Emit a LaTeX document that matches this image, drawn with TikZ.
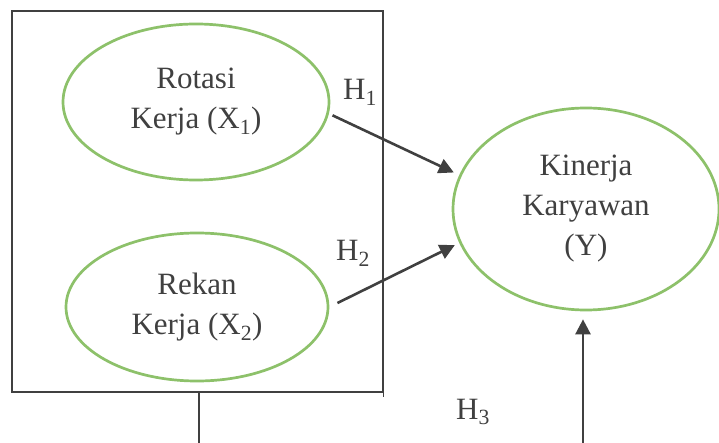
\documentclass[tikz,border=0pt]{standalone}
\usepackage{fontspec}
\setmainfont{Liberation Serif}
\usepackage{tikz}
\usetikzlibrary{shapes.geometric}
\usetikzlibrary{arrows.meta,calc}
\definecolor{ovalgreen}{RGB}{141,193,106}
\definecolor{inkgray}{RGB}{64,64,64}
\tikzset{
  every node/.style={font=\fontsize{31}{40}\selectfont,text=inkgray},
  varoval/.style={ellipse,draw=ovalgreen,line width=2.7pt,inner sep=0pt,align=center},
  conn/.style={draw=inkgray,line width=2.6pt,-{Triangle[length=15pt,width=15pt]}},
  frame/.style={draw=inkgray,line width=1.1pt}
}
\begin{document}
\begin{tikzpicture}[x=1pt,y=-1pt]
  \useasboundingbox[fill=white] (0,0) rectangle (719,443);
  \node[frame,minimum width=371pt,minimum height=381pt,inner sep=0pt] (box) at (197.5,201.5) {};
  \node[varoval,minimum width=266pt,minimum height=156pt] (rotasi) at (196,102)
    {Rotasi\\Kerja (X\textsubscript{1})};
  \node[varoval,minimum width=262pt,minimum height=148pt] (rekan) at (197,307)
    {Rekan\\Kerja (X\textsubscript{2})};
  \node[varoval,minimum width=266pt,minimum height=202pt] (kinerja) at (586,209)
    {\fontsize{31}{42}\selectfont Kinerja\\Karyawan\\(Y)};
  \node (h1lab) at (360,92) {H\textsubscript{1}};
  \node (h2lab) at (353,253) {H\textsubscript{2}};
  \node (h3lab) at (473,412) {H\textsubscript{3}};
  \coordinate (linkend) at (199,443);
  \coordinate (h3start) at (583,443);
  \draw[frame] (box.south east) -- ++(0,4);
  \draw[frame] (linkend |- box.south) -- (linkend);
  \draw[conn,shorten <=4pt,shorten >=6pt] (rotasi.-5) -- (kinerja.165);
  \draw[conn,shorten <=9pt,shorten >=5pt] (rekan.east) -- (kinerja.-165);
  \draw[conn,shorten >=8pt] (h3start) -- (h3start |- kinerja.south);
\end{tikzpicture}
\end{document}
